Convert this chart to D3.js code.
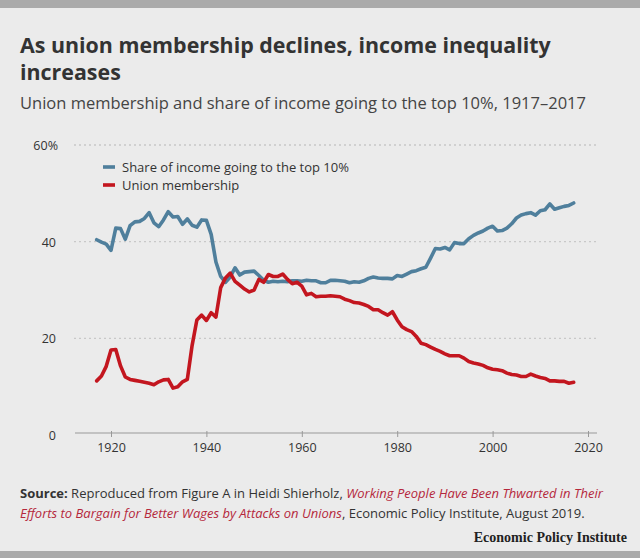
<!DOCTYPE html>
<html>
<head>
<meta charset="utf-8">
<script src="https://cdn.jsdelivr.net/npm/d3@7"></script>
<style>
  html, body { margin: 0; padding: 0; background: #ebebeb; }
  svg { display: block; font-family: "Open Sans", Lato, sans-serif; }
</style>
</head>
<body>
<svg id="chart" width="640" height="558"></svg>
<script>
// data, one value per year
var years = d3.range(1917, 2018);

var topShare = [
    40.4, 39.9, 39.5, 38.2, 42.8, 42.7, 40.5, 43.3, 44.1, 44.2,
    44.8, 46.0, 43.9, 43.1, 44.5, 46.2, 45.1, 45.2, 43.6, 44.7,
    43.4, 43.0, 44.5, 44.4, 41.5, 35.8, 32.8, 31.6, 32.7, 34.6,
    33.1, 33.7, 33.8, 33.9, 33.0, 32.0, 31.6, 31.8, 31.7, 31.8,
    31.7, 31.9, 31.9, 31.8, 32.0, 31.9, 31.9, 31.5, 31.5, 32.0,
    32.0, 31.9, 31.8, 31.5, 31.7, 31.6, 31.9, 32.4, 32.7, 32.5,
    32.4, 32.4, 32.3, 33.0, 32.8, 33.3, 33.8, 34.0, 34.4, 34.7,
    36.6, 38.6, 38.5, 38.8, 38.3, 39.8, 39.6, 39.6, 40.6, 41.3,
    41.8, 42.2, 42.8, 43.2, 42.2, 42.3, 42.8, 43.7, 44.9, 45.5,
    45.8, 46.0, 45.5, 46.4, 46.6, 47.8, 46.7, 47.0, 47.3, 47.5,
    48.0
];

var unionMembership = [
    11.2, 12.2, 14.2, 17.6, 17.7, 14.3, 12.0, 11.5, 11.3, 11.1,
    10.9, 10.7, 10.4, 11.0, 11.4, 11.5, 9.7, 10.0, 11.0, 11.5,
    18.5, 23.8, 24.8, 23.7, 25.3, 24.4, 30.5, 32.5, 33.5, 31.8,
    31.0, 30.2, 29.6, 30.0, 32.2, 31.6, 33.2, 32.8, 32.8, 33.3,
    32.2, 31.3, 31.6, 30.8, 29.0, 29.3, 28.6, 28.7, 28.7, 28.8,
    28.7, 28.6, 28.1, 27.8, 27.4, 27.3, 27.0, 26.6, 25.9, 25.9,
    25.3, 24.8, 25.5, 23.8, 22.4, 21.8, 21.4, 20.4, 19.0, 18.7,
    18.2, 17.7, 17.3, 16.8, 16.4, 16.4, 16.4, 15.9, 15.2, 14.9,
    14.7, 14.4, 13.9, 13.6, 13.5, 13.3, 12.8, 12.5, 12.4, 12.1,
    12.1, 12.6, 12.2, 11.9, 11.7, 11.2, 11.2, 11.1, 11.1, 10.7,
    10.9
];

var xTicks = [1920, 1940, 1960, 1980, 2000, 2020];
var yTicks = [0, 20, 40, 60];

var seriesNames = ["Share of income going to the top 10%", "Union membership"];
var seriesColors = ["#4f7f9c", "#c3161f"];

var svg = d3.select("#chart");

// top and bottom bands
svg.append("rect").attr("x", 0).attr("y", 0).attr("width", 640).attr("height", 8).attr("fill", "#aaaaaa");
svg.append("rect").attr("x", 0).attr("y", 551).attr("width", 640).attr("height", 7).attr("fill", "#aaaaaa");

// headings
var title = svg.append("text")
    .attr("x", 20)
    .attr("font-size", "21.4px")
    .attr("font-weight", "bold")
    .attr("fill", "#333333");
title.append("tspan").attr("x", 20).attr("y", 53).text("As union membership declines, income inequality");
title.append("tspan").attr("x", 20).attr("y", 80).text("increases");

svg.append("text")
    .attr("x", 20).attr("y", 109)
    .attr("font-size", "16.5px")
    .attr("fill", "#444444")
    .text("Union membership and share of income going to the top 10%, 1917\u20132017");

// scales
var x = d3.scaleLinear().domain([1920, 2020]).range([111, 588]);
var y = d3.scaleLinear().domain([0, 60]).range([435, 145]);

// gridlines
svg.append("g")
    .selectAll("line")
    .data(yTicks.filter(function (d) { return d > 0; }))
    .enter().append("line")
    .attr("x1", 74).attr("x2", 597)
    .attr("y1", function (d) { return y(d); })
    .attr("y2", function (d) { return y(d); })
    .attr("stroke", "#c8c8c8")
    .attr("stroke-width", 1.3)
    .attr("stroke-dasharray", "2,3");

// y labels
svg.append("g")
    .selectAll("text")
    .data(yTicks)
    .enter().append("text")
    .attr("x", function (d) { return d === 60 ? 58 : 56; })
    .attr("text-anchor", "end")
    .attr("y", function (d) { return y(d) + 5; })
    .attr("font-size", "12.5px")
    .attr("fill", "#333333")
    .text(function (d) { return d === 60 ? "60%" : d; });

// x axis
var xAxis = d3.axisBottom(x)
    .tickValues(xTicks)
    .tickSize(5)
    .tickFormat(d3.format("d"));
var xg = svg.append("g")
    .attr("transform", "translate(0," + 433 + ")")
    .call(xAxis);
xg.select(".domain").remove();
xg.insert("line", ":first-child")
    .attr("x1", 75).attr("x2", 597)
    .attr("y1", 0).attr("y2", 0)
    .attr("stroke", "#999999")
    .attr("stroke-width", 1.2);
xg.selectAll(".tick line").attr("stroke", "#999999").attr("y1", -2).attr("y2", 4);
xg.selectAll(".tick text")
    .attr("y", 10)
    .attr("font-size", "12.5px")
    .attr("font-family", "\"Open Sans\", sans-serif")
    .attr("fill", "#333333");

// lines
var line = d3.line()
    .x(function (d) { return x(d[0]); })
    .y(function (d) { return y(d[1]); });

var series = [topShare, unionMembership];
for (var i = 0; i < series.length; i++) {
    var pts = years.map(function (yr, j) { return [yr, series[i][j]]; });
    svg.append("path")
        .datum(pts)
        .attr("d", line)
        .attr("fill", "none")
        .attr("stroke", seriesColors[i])
        .attr("stroke-width", 3.6)
        .attr("stroke-linejoin", "round")
        .attr("stroke-linecap", "round");
}

// legend
var legend = svg.append("g").attr("transform", "translate(103,167)");
seriesNames.forEach(function (name, i) {
    var row = legend.append("g").attr("transform", "translate(0," + (i * 18) + ")");
    row.append("line")
        .attr("x1", 0).attr("x2", 12)
        .attr("stroke", seriesColors[i])
        .attr("stroke-width", 3.6);
    row.append("text")
        .attr("x", 19).attr("y", 5)
        .attr("font-size", "13px")
        .attr("fill", "#333333")
        .text(name);
});

// source note
var src = svg.append("text")
    .attr("font-size", "13px")
    .attr("fill", "#333333");
var l1 = src.append("tspan").attr("x", 20).attr("y", 498);
l1.append("tspan").attr("font-weight", "bold").text("Source:");
l1.append("tspan").text(" Reproduced from Figure A in Heidi Shierholz, ");
l1.append("tspan").attr("font-style", "italic").attr("fill", "#b5283c")
    .text("Working People Have Been Thwarted in Their");
var l2 = src.append("tspan").attr("x", 20).attr("y", 518);
l2.append("tspan").attr("font-style", "italic").attr("fill", "#b5283c")
    .text("Efforts to Bargain for Better Wages by Attacks on Unions");
l2.append("tspan").text(", Economic Policy Institute, August 2019.");

svg.append("text")
    .attr("x", 627).attr("y", 542)
    .attr("text-anchor", "end")
    .attr("font-family", "\"Liberation Serif\", \"DejaVu Serif\", serif")
    .attr("font-weight", "bold")
    .attr("font-size", "14px")
    .attr("fill", "#222222")
    .text("Economic Policy Institute");
</script>
</body>
</html>
